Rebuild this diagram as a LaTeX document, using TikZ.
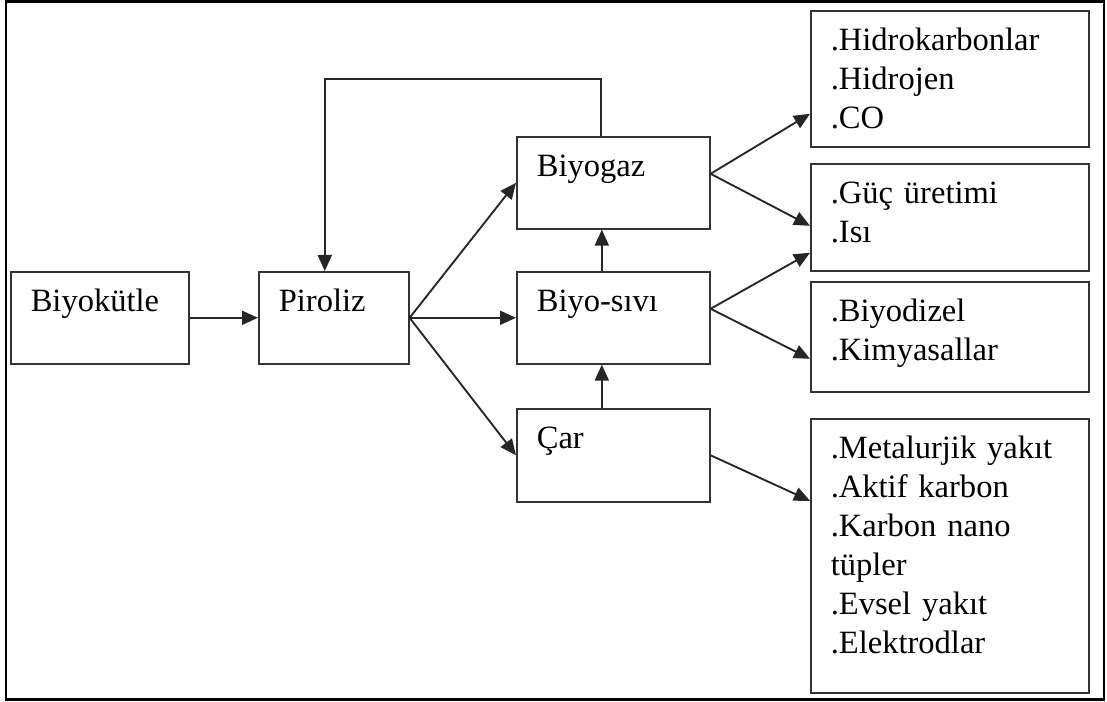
\documentclass[tikz,border=0pt]{standalone}
\usepackage{fontspec}
\setmainfont{Liberation Serif}
\usetikzlibrary{arrows.meta}
\tikzstyle{block} = [draw=black!80, line width=1.2pt, anchor=north west, inner xsep=15pt, inner ysep=0pt,
align=left, text height=30pt, font=\fontsize{24.4pt}{29.25pt}\selectfont]
\tikzstyle{arrow} = [line width=1.4pt, draw=black!85, -{Triangle[length=12pt,width=10.5pt]}]

\begin{document}
\begin{tikzpicture}[x=0.75pt, y=-0.75pt]
                 \useasboundingbox (0,0) rectangle (1107,702);
                 \draw [line width=2.2pt] (6,1.5) rectangle (1104,699.5);
                 \node (bio) [block, text width=103.5pt, text depth=39pt] at (10,271) {Biyokütle};
                 \node (piro) [block, text width=82.5pt, text depth=39pt] at (258,271) {Piroliz};
                 \node (gaz) [block, text width=114.75pt, text depth=39pt] at (516,136) {Biyogaz};
                 \node (sivi) [block, text width=114.75pt, text depth=39pt] at (516,271) {Biyo-sıvı};
                 \node (car) [block, text width=114.75pt, text depth=39.75pt] at (516,408) {Çar};
                 \node (hidro) [block, text width=178.5pt, text depth=72pt] at (810,10) {%
                     .Hidrokarbonlar\\.Hidrojen\\.CO};
                 \node (guc) [block, text width=178.5pt, text depth=50.25pt] at (810,163) {%
                     .Güç üretimi\\.Isı};
                 \node (dizel) [block, text width=178.5pt, text depth=52.5pt] at (810,281) {%
                     .Biyodizel\\.Kimyasallar};
                 \node (metal) [block, text width=178.5pt, text depth=175.5pt] at (810,418) {%
                     .Metalurjik yakıt\\.Aktif karbon\\.Karbon nano\\tüpler\\.Evsel yakıt\\.Elektrodlar};
                 \draw [arrow] (bio.east) -- (piro.west);
                 \draw [arrow] (piro.east) -- (gaz.west);
                 \draw [arrow] (piro.east) -- (sivi.west);
                 \draw [arrow] (piro.east) -- (car.west);
                 \draw [arrow] ([xshift=-8.6pt]car.north) -- ([xshift=-8.6pt]sivi.south);
                 \draw [arrow] ([xshift=-8.6pt]sivi.north) -- ([xshift=-8.6pt]gaz.south);
                 \draw [arrow] ([xshift=-9pt]gaz.north) -- ++(0,-57) -| ([xshift=-6.75pt]piro.north);
                 \draw [arrow] ([yshift=6.75pt]gaz.east) -- ([yshift=-26.25pt]hidro.west);
                 \draw [arrow] ([yshift=6.75pt]gaz.east) -- ([yshift=-6.4pt]guc.west);
                 \draw [arrow] ([yshift=6.75pt]sivi.east) -- ([yshift=-26.6pt]guc.west);
                 \draw [arrow] ([yshift=6.75pt]sivi.east) -- ([yshift=-16.5pt]dizel.west);
                 \draw [arrow] (car.east) -- ([yshift=41.25pt]metal.west);
             \end{tikzpicture}
\end{document}
